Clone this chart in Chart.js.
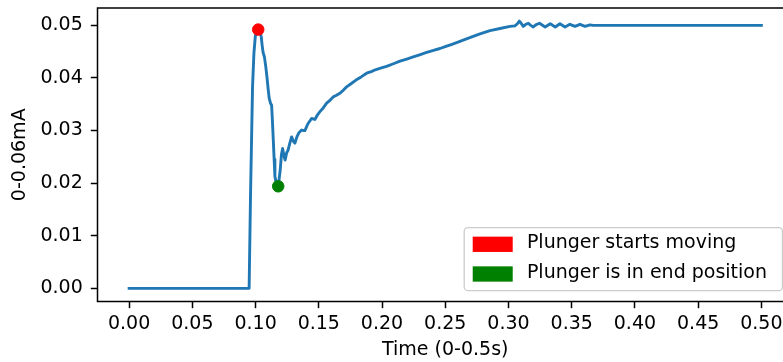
<!DOCTYPE html>
<html><head><meta charset="utf-8">
<script src="https://cdn.jsdelivr.net/npm/chart.js@4/dist/chart.umd.min.js"></script>
<style>
html,body{margin:0;padding:0;overflow:hidden;background:#fff;width:783px;height:362px}
#wrap{position:relative;width:810px;height:362px}
canvas{display:block}
</style></head><body>
<div id="wrap"><canvas id="c" width="810" height="362"></canvas></div>
<script>
// ---- data ----
const timeS = [
 0.000, 0.0949, 0.0960, 0.0976, 0.0987, 0.0998, 0.1010, 0.1021, 0.1035, 0.1045,
 0.1052, 0.1060, 0.1070, 0.1081, 0.1090, 0.1100, 0.1108, 0.1118, 0.1127, 0.1133,
 0.1139, 0.1147, 0.1153, 0.1165, 0.1179, 0.1195, 0.1205, 0.1214, 0.1224, 0.1234,
 0.1246, 0.1256, 0.1270, 0.1285, 0.1298, 0.1311, 0.1327, 0.1343, 0.1364, 0.1378,
 0.1390, 0.1414, 0.1443, 0.1458, 0.1469, 0.1490, 0.1509, 0.1535, 0.1562, 0.1590,
 0.1614, 0.1640, 0.1667, 0.1695, 0.1720, 0.1760, 0.1794, 0.1835, 0.1878, 0.1915,
 0.1952, 0.1995, 0.2036, 0.2090, 0.2142, 0.2195, 0.2247, 0.2297, 0.2347, 0.2400,
 0.2458, 0.2505, 0.2553, 0.2600, 0.2642, 0.2710, 0.2775, 0.2854, 0.2933, 0.3012,
 0.3051, 0.3070, 0.3086, 0.3100, 0.3117, 0.3137, 0.3157, 0.3176, 0.3196, 0.3216,
 0.3245, 0.3290, 0.3330, 0.3370, 0.3407, 0.3447, 0.3486, 0.3526, 0.3566, 0.3605,
 0.3645, 0.3669, 0.5000
];
const currentMA = [
 0.0000, 0.0000, 0.0175, 0.0383, 0.0447, 0.0479, 0.0490, 0.0492, 0.0489, 0.0478,
 0.0462, 0.0448, 0.0440, 0.0421, 0.0402, 0.0378, 0.0361, 0.0352, 0.0348, 0.0320,
 0.0288, 0.0245, 0.0213, 0.0198, 0.0194, 0.0225, 0.0255, 0.0266, 0.0252, 0.0244,
 0.0258, 0.0262, 0.0275, 0.0288, 0.0280, 0.0276, 0.0288, 0.0296, 0.0301, 0.0300,
 0.0300, 0.0313, 0.0323, 0.0322, 0.0321, 0.0330, 0.0336, 0.0343, 0.0352, 0.0358,
 0.0364, 0.0367, 0.0371, 0.0377, 0.0383, 0.0390, 0.0396, 0.0402, 0.0409, 0.0412,
 0.0416, 0.0419, 0.0422, 0.0427, 0.0432, 0.0436, 0.0440, 0.0444, 0.0448, 0.0452,
 0.0456, 0.0460, 0.0464, 0.0468, 0.0472, 0.0478, 0.0484, 0.0490, 0.0494, 0.0498,
 0.0499, 0.0503, 0.0508, 0.0504, 0.0498, 0.0502, 0.0504, 0.0500, 0.0497, 0.0501,
 0.0504, 0.0497, 0.0503, 0.0497, 0.0503, 0.0497, 0.0502, 0.0498, 0.0502, 0.0498,
 0.0501, 0.0500, 0.0500
];
const startX = [0.1021];
const startY = [0.0492];
const endX = [0.1179];
const endY = [0.0194];
const legendLabels = ["Plunger starts moving", "Plunger is in end position"];
const xTicks = [0.00, 0.05, 0.10, 0.15, 0.20, 0.25, 0.30, 0.35, 0.40, 0.45, 0.50];
const yTicks = [0.00, 0.01, 0.02, 0.03, 0.04, 0.05];
const xTitle = "Time (0-0.5s)";
const yTitle = "0-0.06mA";

// ---- chart ----
const FAMILY = "'DejaVu Sans', sans-serif";
const FS = 19;
Chart.defaults.font.family = FAMILY;
Chart.defaults.font.size = FS;
Chart.defaults.color = '#000';

const framePlugin = {
  id: 'frame',
  afterDatasetsDraw(chart) {
    const {ctx, chartArea: a} = chart;
    ctx.save();
    ctx.strokeStyle = '#000';
    ctx.lineWidth = 1.5;
    ctx.strokeRect(a.left, a.top, a.right - a.left, a.bottom - a.top);
    ctx.restore();
  }
};

const legendPlugin = {
  id: 'boxLegend',
  afterDraw(chart) {
    const {ctx, chartArea: a} = chart;
    const items = chart.data.datasets.filter(d => d.isMarker);
    ctx.save();
    ctx.font = FS + "px " + FAMILY;
    const textW = Math.max(...items.map(it => ctx.measureText(it.label).width));
    const right = a.right - 10.5;
    const bottom = a.bottom - 10.8;
    const rowStep = 29.7, firstOff = 16.7;
    const h = firstOff * 2 + rowStep * (items.length - 1);
    const handleW = 2 * FS, gap = 0.8 * FS, padL = 8.5;
    const w = padL + 1 + handleW + gap + textW + 15.5;
    const left = right - w, top = bottom - h;
    ctx.beginPath();
    ctx.roundRect(left, top, w, h, 3.8);
    ctx.fillStyle = 'rgba(255,255,255,0.8)';
    ctx.fill();
    ctx.strokeStyle = '#cccccc';
    ctx.lineWidth = 1.3;
    ctx.stroke();
    items.forEach((it, i) => {
      const cy = top + firstOff + i * rowStep;
      ctx.fillStyle = it.backgroundColor;
      ctx.fillRect(left + padL, cy - 7.65, handleW + 2, 15.3);
      ctx.fillStyle = '#000';
      ctx.textBaseline = 'middle';
      ctx.textAlign = 'left';
      ctx.fillText(it.label, left + padL + 1 + handleW + gap, cy - 1.2);
    });
    ctx.restore();
  }
};

new Chart(document.getElementById('c').getContext('2d'), {
  type: 'line',
  data: {
    datasets: [
      { label: legendLabels[0], isMarker: true, type: 'scatter',
        data: startX.map((x, i) => ({x, y: startY[i]})),
        backgroundColor: '#ff0000', borderColor: '#ff0000', pointRadius: 5.75, borderWidth: 1, order: 1 },
      { label: legendLabels[1], isMarker: true, type: 'scatter',
        data: endX.map((x, i) => ({x, y: endY[i]})),
        backgroundColor: '#008000', borderColor: '#008000', pointRadius: 5.75, borderWidth: 1, order: 1 },
      { label: 'signal', data: timeS.map((x, i) => ({x, y: currentMA[i]})),
        borderColor: '#1f77b4', borderWidth: 2.9, pointRadius: 0, fill: false, tension: 0,
        borderCapStyle: 'square', borderJoinStyle: 'round', order: 2 }
    ]
  },
  options: {
    responsive: false,
    animation: false,
    events: [],
    layout: { padding: { top: 8, right: 17, left: 0, bottom: 0 } },
    plugins: { legend: { display: false }, tooltip: { enabled: false } },
    scales: {
      x: {
        type: 'linear', position: 'bottom', min: -0.025, max: 0.525,
        afterBuildTicks: s => { s.ticks = xTicks.map(v => ({value: v})); },
        afterFit: s => { s.height = 60.5; s.paddingLeft = 0; s.paddingRight = 0; },
        ticks: { padding: 4.2, maxRotation: 0, autoSkip: false, color: '#000',
                 callback: v => v.toFixed(2) },
        grid: { display: true, drawOnChartArea: false, drawTicks: true, tickLength: 6.7,
                tickWidth: 1.5, tickColor: '#000' },
        border: { display: false },
        title: { display: true, text: xTitle, color: '#000', padding: { top: 0, bottom: 1 } }
      },
      y: {
        type: 'linear', position: 'left', min: -0.0025, max: 0.0533,
        afterBuildTicks: s => { s.ticks = yTicks.map(v => ({value: v})); },
        afterFit: s => { s.width = 97.5; s.paddingTop = 0; s.paddingBottom = 0; },
        ticks: { padding: 8, color: '#000', callback: v => v.toFixed(2) },
        grid: { display: true, drawOnChartArea: false, drawTicks: true, tickLength: 6.7,
                tickWidth: 1.5, tickColor: '#000' },
        border: { display: false },
        title: { display: true, text: yTitle, color: '#000', padding: { top: 8.6, bottom: 0 } }
      }
    }
  },
  plugins: [framePlugin, legendPlugin]
});
</script>
</body></html>
